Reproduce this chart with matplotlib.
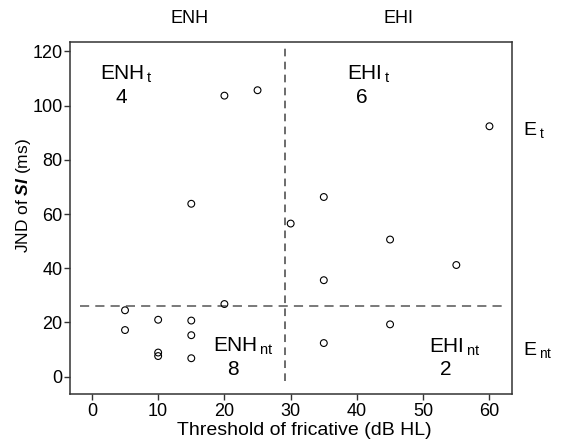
import numpy as np
import matplotlib
matplotlib.use("Agg")
import matplotlib.pyplot as plt
import matplotlib.transforms as mtransforms

plt.rcParams["font.family"] = ["Liberation Sans", "DejaVu Sans"]
plt.rcParams["mathtext.fontset"] = "custom"
plt.rcParams["mathtext.rm"] = "Liberation Sans"
plt.rcParams["mathtext.it"] = "Liberation Sans:italic"
plt.rcParams["mathtext.bf"] = "Liberation Sans:bold"
plt.rcParams["mathtext.bfit"] = "Liberation Sans:bold:italic"

# fricative threshold (dB HL) and JND of SI (ms)
threshold = [20, 25, 15, 20, 5, 5, 10, 15, 15, 10, 10, 15,
             30, 60, 35, 45, 55, 35, 45, 35]
jnd = [103.7, 105.7, 63.8, 26.8, 24.5, 17.2, 21.0, 20.7, 15.3, 8.9, 7.6, 6.8,
       56.5, 92.4, 66.3, 50.6, 41.2, 35.6, 19.3, 12.4]

x_cut = 29.2
y_cut = 26.2

x_ticks = [0, 10, 20, 30, 40, 50, 60]
y_ticks = [0, 20, 40, 60, 80, 100, 120]

# quadrant labels: (name, subscript, count, name x, name y, count x, count y)
quad_labels = [
    ("ENH", "t", "4", 1.25, 109.5, 4.4, 101.1),
    ("EHI", "t", "6", 38.5, 109.5, 40.8, 100.9),
    ("ENH", "nt", "8", 18.3, 9.2, 21.3, 0.6),
    ("EHI", "nt", "2", 50.9, 8.9, 53.4, 0.6),
]

fig = plt.figure(figsize=(5.62, 4.43), dpi=100)
ax = fig.add_axes([0.1246, 0.1106, 0.7864, 0.7946])

ax.scatter(threshold, jnd, s=24, facecolors="none", edgecolors="black",
           linewidths=0.8, zorder=3)

ax.plot([x_cut, x_cut], [-1.5, 122], color="#444444", lw=1.1,
        dashes=(5, 3.5))
ax.plot([-1.8, 62.0], [y_cut, y_cut], color="#555555", lw=1.1,
        dashes=(6, 4))

ax.set_xlim(-3.3, 63.4)
ax.set_ylim(-6.4, 123.5)
ax.set_xticks(x_ticks)
ax.set_yticks(y_ticks)
ax.tick_params(direction="out", length=4.5, width=1.0, color="#333333",
               labelsize=13)
ax.tick_params(axis="x", pad=2)
ax.tick_params(axis="y", pad=1)
for sp in ax.spines.values():
    sp.set_color("#333333")
    sp.set_linewidth(1.1)

ax.set_xlabel("Threshold of fricative (dB HL)", fontsize=14)
ax.set_ylabel(r"JND of $\mathbfit{SI}$ (ms)", fontsize=12.5)
ax.xaxis.set_label_coords(0.53, -0.08)
ax.yaxis.set_label_coords(-0.084, 0.565)

for name, sub, count, xn, yn, xc, yc in quad_labels:
    ax.text(xn, yn, name + r"$_{\,\mathrm{" + sub + "}}$", fontsize=15,
            ha="left", va="baseline")
    ax.text(xc, yc, count, fontsize=15, ha="center", va="baseline")

# group labels above the plot
trans_top = mtransforms.blended_transform_factory(ax.transData, ax.transAxes)
ax.text(14.8, 1.054, "ENH", fontsize=13, ha="center", va="baseline",
        transform=trans_top)
ax.text(46.2, 1.054, "EHI", fontsize=13, ha="center", va="baseline",
        transform=trans_top)

# row labels right of the plot
trans_right = mtransforms.blended_transform_factory(ax.transAxes, ax.transData)
ax.text(1.025, 89.2, r"E$_{\;\mathrm{t}}$", fontsize=14, ha="left",
        va="baseline", transform=trans_right, clip_on=False)
ax.text(1.025, 8.0, r"E$_{\;\mathrm{nt}}$", fontsize=14, ha="left",
        va="baseline", transform=trans_right, clip_on=False)

fig.savefig("out.png", dpi=100)
